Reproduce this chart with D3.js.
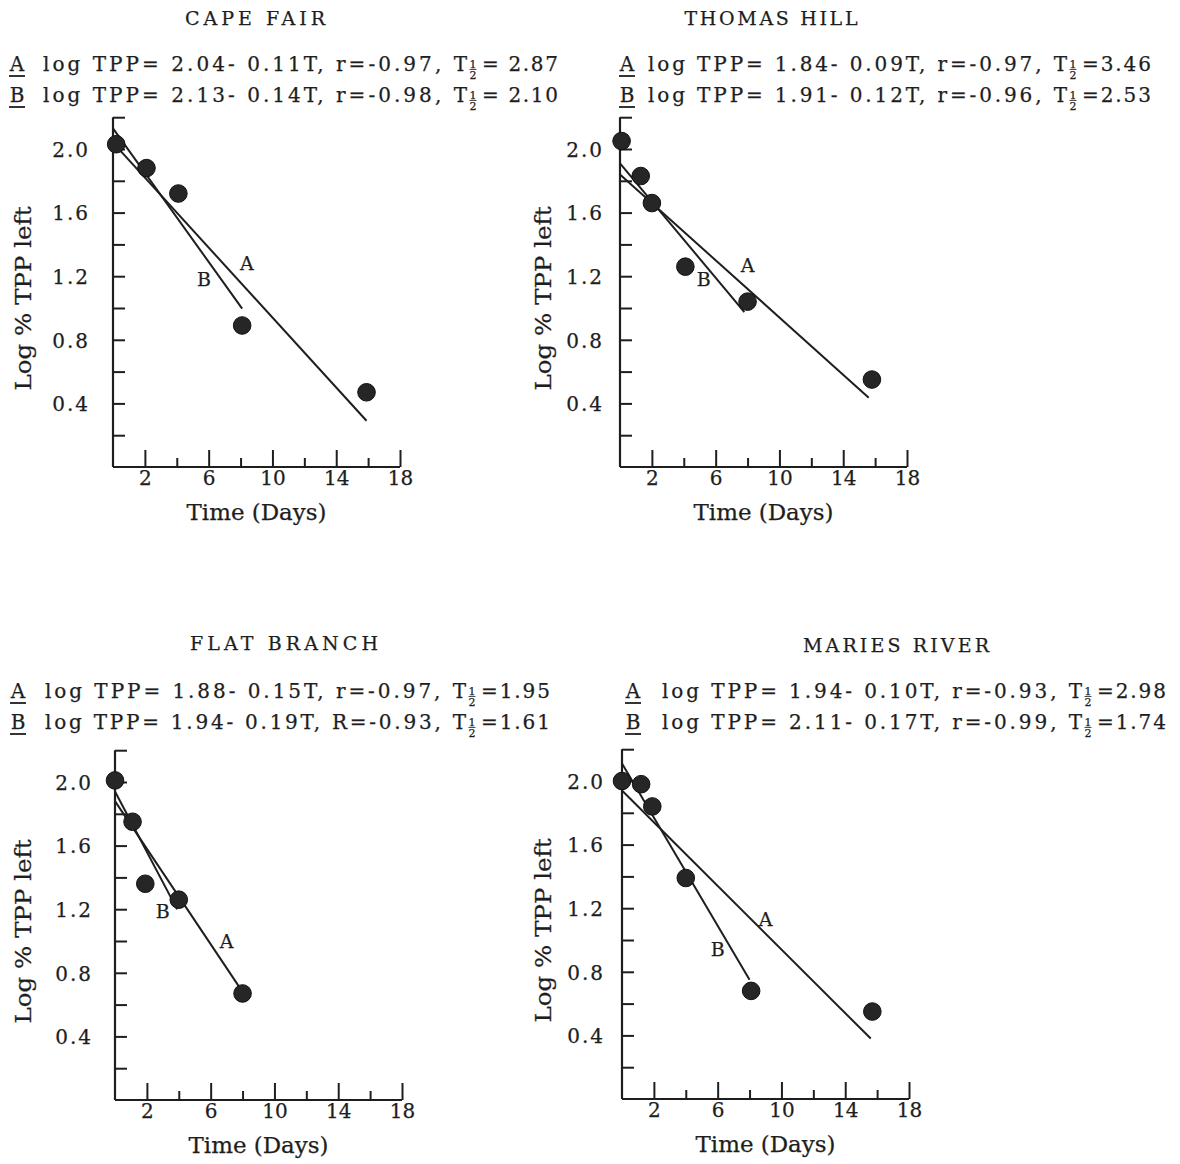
<!DOCTYPE html>
<html>
<head>
<meta charset="utf-8">
<script src="https://cdn.jsdelivr.net/npm/d3@7"></script>
<style>
  body { margin: 0; background: #fff; }
  text { font-family: "DejaVu Serif", "Liberation Serif", serif; fill: #1e1e1e; stroke: #1e1e1e; stroke-width: 0.25; }
</style>
</head>
<body>
<svg id="fig" width="1180" height="1164"></svg>
<script>
// ---- data ----------------------------------------------------------
const sites = ["CAPE FAIR", "THOMAS HILL", "FLAT BRANCH", "MARIES RIVER"];

// observed residues: time (days) and log % TPP left
const capeFairDays   = [0.2, 2.1, 4.1, 8.1, 15.9];
const capeFairLog    = [2.03, 1.88, 1.72, 0.89, 0.47];
const thomasHillDays = [0.1, 1.3, 2.0, 4.1, 8.0, 15.8];
const thomasHillLog  = [2.05, 1.83, 1.66, 1.26, 1.04, 0.55];
const flatBranchDays = [0.0, 1.1, 1.9, 4.0, 8.0];
const flatBranchLog  = [2.01, 1.75, 1.36, 1.26, 0.67];
const mariesDays     = [0.0, 1.2, 1.9, 4.0, 8.1, 15.7];
const mariesLog      = [2.00, 1.98, 1.84, 1.39, 0.68, 0.55];

// regression A: log TPP = a - bT
const fitAIntercept = [2.04, 1.84, 1.88, 1.94];
const fitASlope     = [0.11, 0.09, 0.15, 0.10];
const fitAEnd       = [15.9, 15.6, 8.0, 15.6];
const fitAr         = ["r=-0.97", "r=-0.97", "r=-0.97", "r=-0.93"];
const fitAHalf      = ["= 2.87", "=3.46", "=1.95", "=2.98"];
const fitALabelAt   = [[8.4, 1.28], [8.0, 1.27], [7.0, 1.00], [9.0, 1.13]];

// regression B
const fitBIntercept = [2.13, 1.91, 1.94, 2.11];
const fitBSlope     = [0.14, 0.12, 0.19, 0.17];
const fitBEnd       = [8.1, 7.8, 3.9, 8.0];
const fitBr         = ["r=-0.98", "r=-0.96", "R=-0.93", "r=-0.99"];
const fitBHalf      = ["= 2.10", "=2.53", "=1.61", "=1.74"];
const fitBLabelAt   = [[5.7, 1.18], [5.25, 1.18], [3.0, 1.19], [6.0, 0.94]];

// axis ticks
const xMajorTicks = [2, 6, 10, 14, 18];
const xMinorTicks = [4, 8, 12, 16];
const yTicks      = [0.2, 0.4, 0.6, 0.8, 1.0, 1.2, 1.4, 1.6, 1.8, 2.0, 2.2];
const yTickLabels = [0.4, 0.8, 1.2, 1.6, 2.0];

const siteDays = [capeFairDays, thomasHillDays, flatBranchDays, mariesDays];
const siteLog  = [capeFairLog, thomasHillLog, flatBranchLog, mariesLog];

// ---- layout ---------------------------------------------------------
const panels = [
  { x0: 113, base: 467,  titleX: 255, titleY: 18,  titleW: 140, eqX: 9,   mainX: 43,  mainW: 424, eqY: [71, 102],  yLabX: 23,  tickPad: 23 },
  { x0: 620, base: 467,  titleX: 771, titleY: 18,  titleW: 173, eqX: 619, mainX: 648, mainW: 419, eqY: [71, 102],  yLabX: 543, tickPad: 16 },
  { x0: 115, base: 1100, titleX: 284, titleY: 643, titleW: 188, eqX: 10,  mainX: 45,  mainW: 421, eqY: [698, 729], yLabX: 23,  tickPad: 22 },
  { x0: 622, base: 1099, titleX: 896, titleY: 645, titleW: 186, eqX: 625, mainX: 662, mainW: 420, eqY: [698, 729], yLabX: 543, tickPad: 17 }
];
const plotW = 287;         // 0..18 days
const unitH = 159;         // pixels per log unit

const svg = d3.select("#fig");
const ink = "#1e1e1e";

function equation(g, p, y, letter, a, b, r, half) {
  const x = p.eqX;
  g.append("text").attr("x", x + 8).attr("y", y).attr("text-anchor", "middle")
    .attr("font-size", 20).text(letter);
  g.append("line").attr("x1", x).attr("x2", x + 16).attr("y1", y + 5).attr("y2", y + 5)
    .attr("stroke", ink).attr("stroke-width", 1.8);
  const main = `log TPP= ${a.toFixed(2)}- ${b.toFixed(2)}T, ${r}, T`;
  g.append("text").attr("x", p.mainX).attr("y", y).attr("font-size", 20)
    .attr("textLength", p.mainW).attr("lengthAdjust", "spacing").text(main);
  const fx = p.mainX + p.mainW + 6;
  g.append("text").attr("x", fx).attr("y", y - 3).attr("font-size", 11)
    .attr("text-anchor", "middle").text("1");
  g.append("line").attr("x1", fx - 3.5).attr("x2", fx + 3.5).attr("y1", y - 1.5).attr("y2", y - 1.5)
    .attr("stroke", ink).attr("stroke-width", 0.8);
  g.append("text").attr("x", fx).attr("y", y + 8).attr("font-size", 11)
    .attr("text-anchor", "middle").text("2");
  const tailW = half.indexOf(" ") >= 0 ? 76 : 69;
  g.append("text").attr("x", fx + 9).attr("y", y).attr("font-size", 20)
    .attr("textLength", tailW).attr("lengthAdjust", "spacing").text(half);
}

panels.forEach((p, i) => {
  const g = svg.append("g");
  const x = d3.scaleLinear().domain([0, 18]).range([p.x0, p.x0 + plotW]);
  const y = d3.scaleLinear().domain([0, 2.2]).range([p.base, p.base - 2.2 * unitH]);

  // title
  g.append("text").attr("x", p.titleX).attr("y", p.titleY + 7)
    .attr("text-anchor", "middle").attr("font-size", 19)
    .attr("textLength", p.titleW).attr("lengthAdjust", "spacing")
    .text(sites[i]);

  // regression equations
  equation(g, p, p.eqY[0], "A", fitAIntercept[i], fitASlope[i], fitAr[i], fitAHalf[i]);
  equation(g, p, p.eqY[1], "B", fitBIntercept[i], fitBSlope[i], fitBr[i], fitBHalf[i]);

  // axes lines
  g.append("line").attr("x1", x(0)).attr("x2", x(0)).attr("y1", y(0)).attr("y2", y(2.2))
    .attr("stroke", ink).attr("stroke-width", 2.2);
  g.append("line").attr("x1", x(0)).attr("x2", x(18)).attr("y1", y(0)).attr("y2", y(0))
    .attr("stroke", ink).attr("stroke-width", 2.2);

  // y ticks (inward) and labels
  const yTickAxis = g.append("g").attr("transform", `translate(${x(0)},0)`)
    .call(d3.axisRight(y).tickValues(yTicks).tickSize(12).tickFormat(""));
  const yLabAxis = g.append("g").attr("transform", `translate(${x(0)},0)`)
    .call(d3.axisLeft(y).tickValues(yTickLabels).tickSize(0).tickPadding(p.tickPad)
      .tickFormat(d3.format(".1f")));

  // x ticks (inward, major long / minor short) and labels
  const xMaj = g.append("g").attr("transform", `translate(0,${y(0)})`)
    .call(d3.axisTop(x).tickValues(xMajorTicks).tickSize(17).tickFormat(""));
  const xMin = g.append("g").attr("transform", `translate(0,${y(0)})`)
    .call(d3.axisTop(x).tickValues(xMinorTicks).tickSize(9).tickFormat(""));
  const xLab = g.append("g").attr("transform", `translate(0,${y(0)})`)
    .call(d3.axisBottom(x).tickValues(xMajorTicks).tickSize(0).tickPadding(4));

  [yTickAxis, yLabAxis, xMaj, xMin, xLab].forEach(ax => {
    ax.select(".domain").remove();
    ax.selectAll(".tick line").attr("stroke", ink).attr("stroke-width", 2);
    ax.selectAll(".tick text").attr("font-family", "DejaVu Serif").attr("font-size", 20)
      .attr("fill", ink).attr("stroke", ink).attr("stroke-width", 0.25);
  });
  yLabAxis.selectAll(".tick text").attr("letter-spacing", 2).attr("dy", "0.36em");

  // axis titles
  g.append("text").attr("x", x(9)).attr("y", y(0) + 53)
    .attr("text-anchor", "middle").attr("font-size", 22)
    .attr("textLength", 140).attr("lengthAdjust", "spacingAndGlyphs").text("Time (Days)");
  g.append("text")
    .attr("transform", `translate(${p.yLabX + 8},${y(1.06)}) rotate(-90)`)
    .attr("text-anchor", "middle").attr("font-size", 22)
    .attr("textLength", 184).attr("lengthAdjust", "spacingAndGlyphs").text("Log % TPP left");

  // regression lines
  const fits = [
    { a: fitAIntercept[i], b: fitASlope[i], end: fitAEnd[i], lab: "A", at: fitALabelAt[i] },
    { a: fitBIntercept[i], b: fitBSlope[i], end: fitBEnd[i], lab: "B", at: fitBLabelAt[i] }
  ];
  const line = d3.line().x(d => x(d[0])).y(d => y(d[1]));
  fits.forEach(f => {
    g.append("path")
      .attr("d", line([[0, f.a], [f.end, f.a - f.b * f.end]]))
      .attr("fill", "none").attr("stroke", ink).attr("stroke-width", 2);
    g.append("text").attr("x", x(f.at[0])).attr("y", y(f.at[1]))
      .attr("dy", "0.36em").attr("text-anchor", "middle").attr("font-size", 19)
      .text(f.lab);
  });

  // observations
  const pts = d3.zip(siteDays[i], siteLog[i]);
  g.selectAll("circle.obs").data(pts).enter().append("circle")
    .attr("class", "obs")
    .attr("cx", d => x(d[0])).attr("cy", d => y(d[1])).attr("r", 8.8)
    .attr("fill", "#262626").attr("stroke", "#111").attr("stroke-width", 1);
});
</script>
</body>
</html>
